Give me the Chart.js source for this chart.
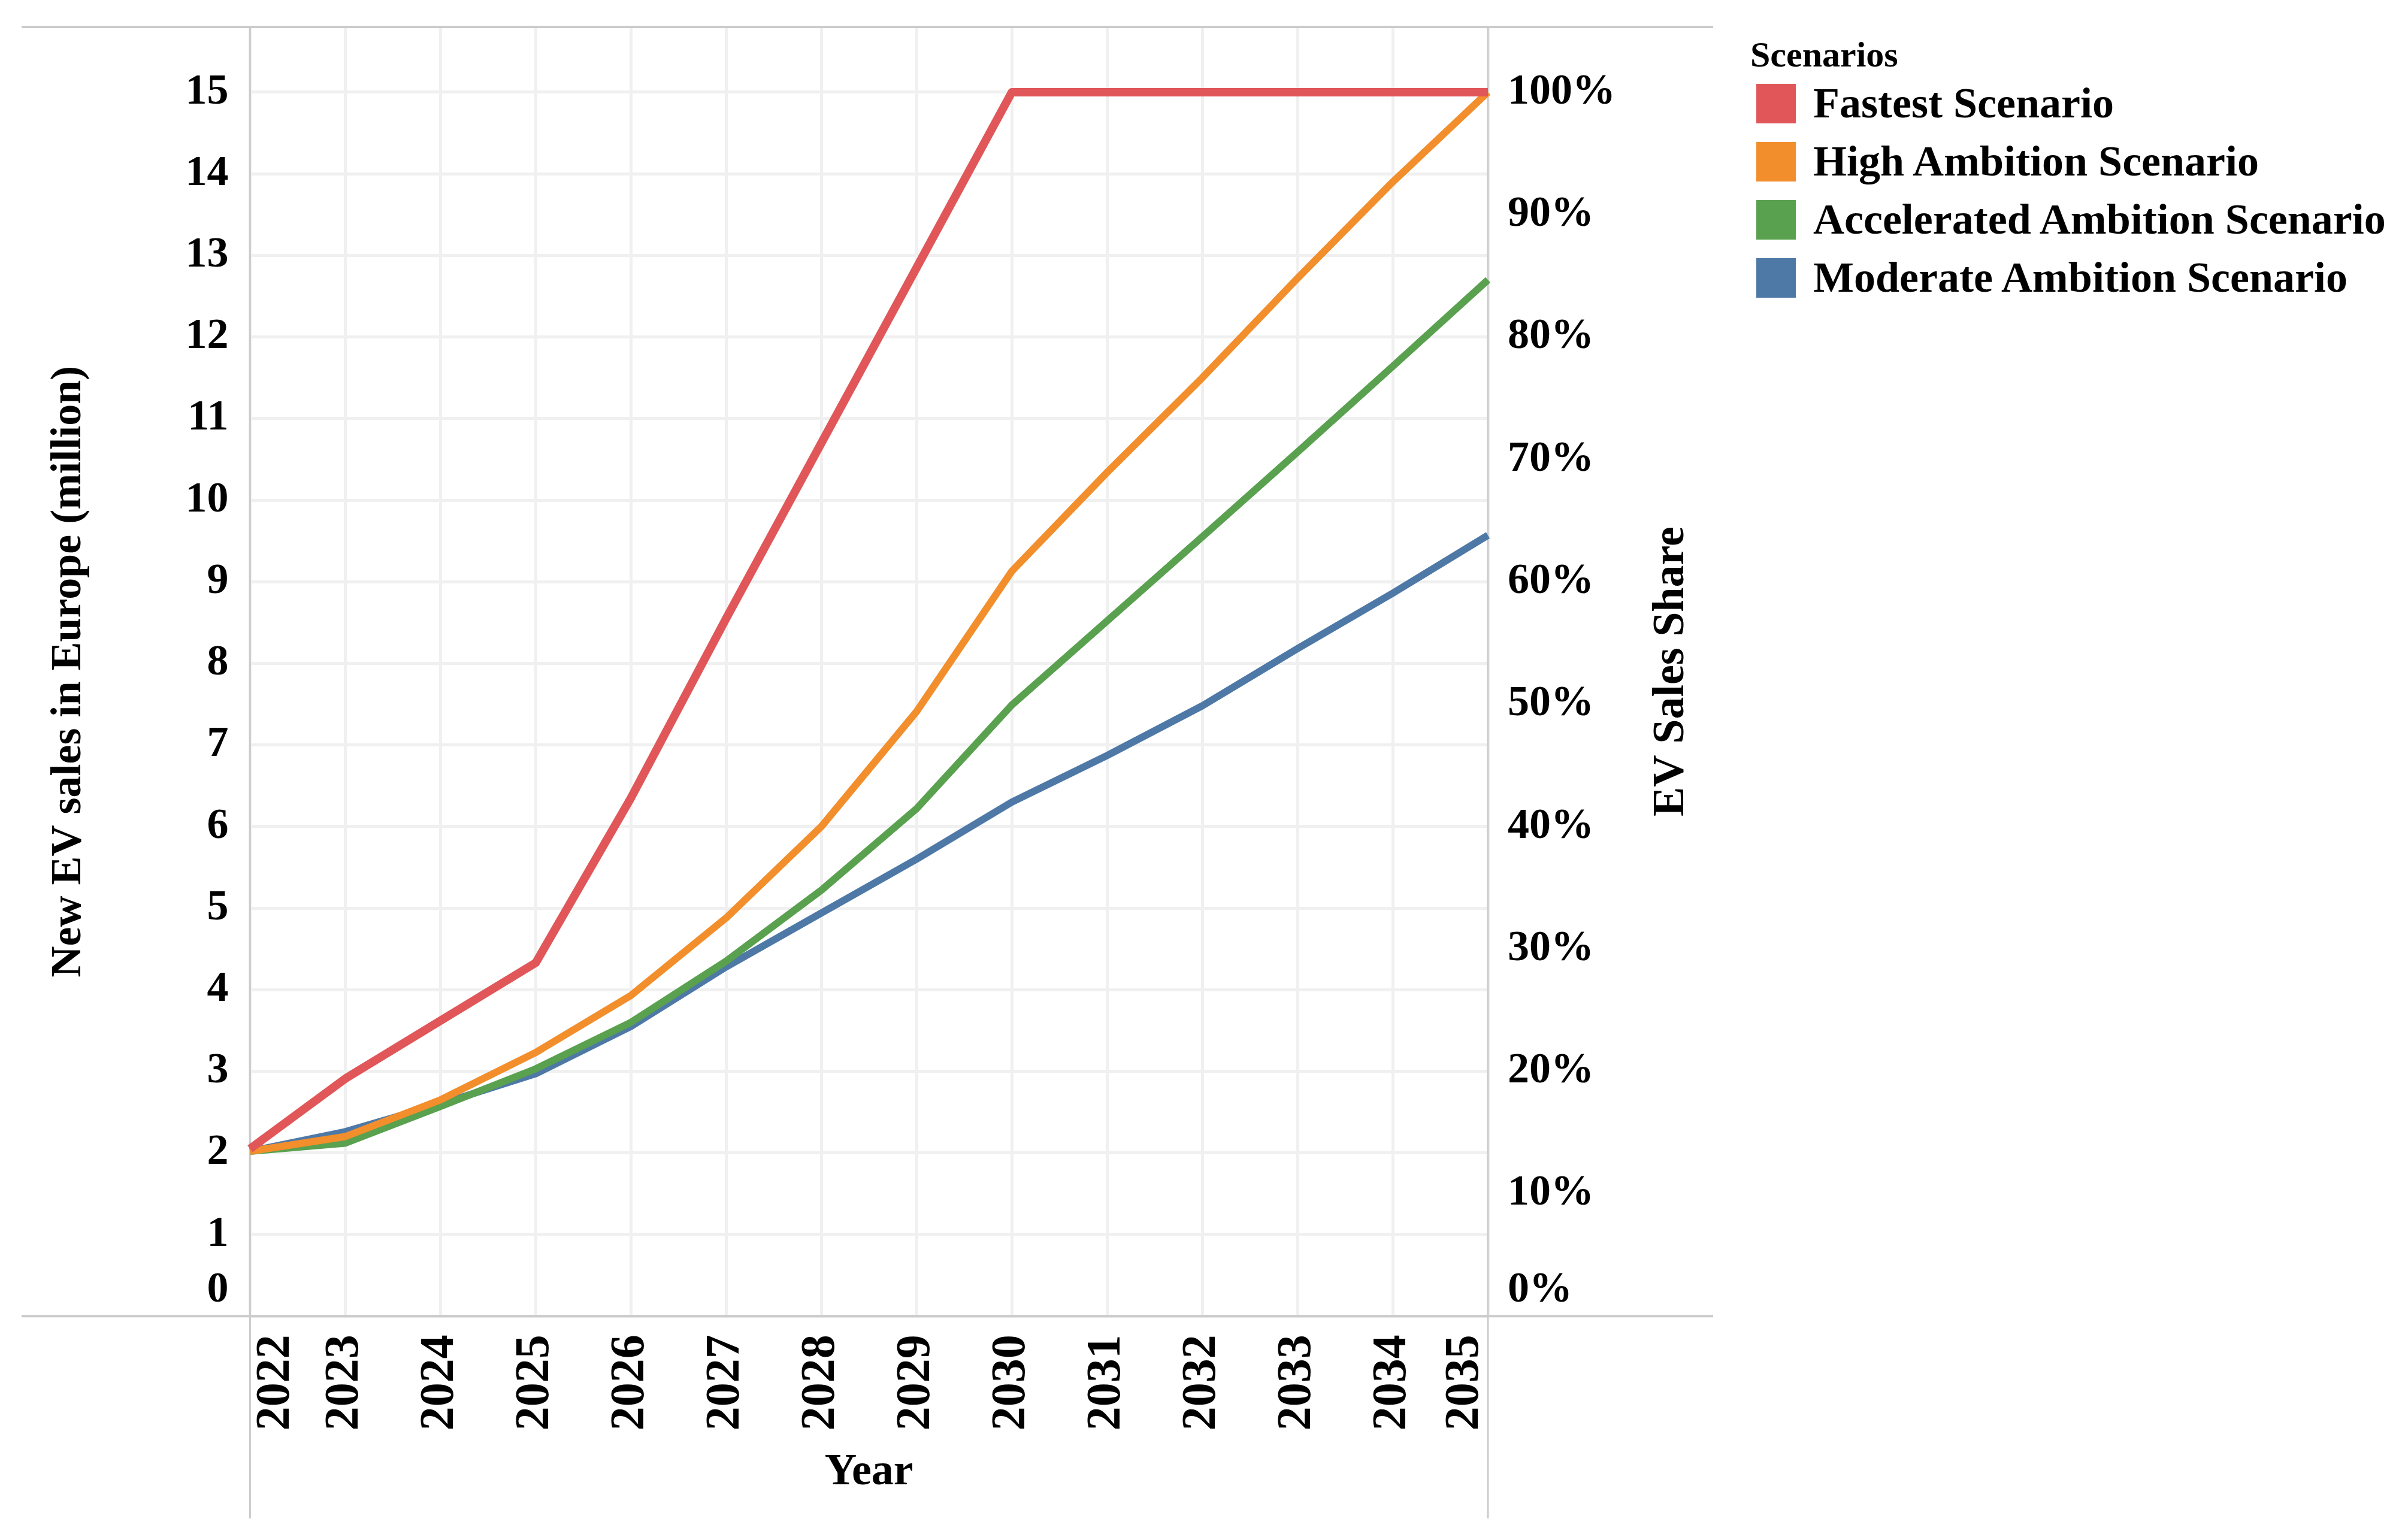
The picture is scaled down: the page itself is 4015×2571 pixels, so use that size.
<!DOCTYPE html>
<html>
<head>
<meta charset="utf-8">
<title>New EV sales in Europe</title>
<script src="https://cdn.jsdelivr.net/npm/chart.js@4.4.1/dist/chart.umd.min.js"></script>
<style>
  html, body { margin: 0; padding: 0; background: #fff; }
  #page { position: relative; width: 4015px; height: 2571px; }
  #wrap { position: absolute; left: 0; top: 0; width: 2880px; height: 2571px; }
  #legend {
    position: absolute; left: 2922px; top: 58px;
    font-family: 'Liberation Serif', 'Times New Roman', serif;
    font-weight: bold; color: #000;
  }
  #legend .lg-title { font-size: 60px; line-height: 66px; }
  #legend .lg-item { display: flex; align-items: center; height: 97px; margin-left: 10px;
                     font-size: 72px; white-space: nowrap; }
  #legend .lg-box { width: 66px; height: 66px; margin-right: 29px; flex: none; }
</style>
</head>
<body>
<div id="page">
  <div id="wrap"><canvas id="evChart"></canvas></div>
  <div id="legend"></div>
</div>
<script>
/* ── data ─────────────────────────────────────── */
var years = ['2022','2023','2024','2025','2026','2027','2028','2029','2030','2031','2032','2033','2034','2035'];

var fastest     = [2.05, 2.91, 3.62, 4.33, 6.35, 8.55, 10.7, 12.85, 15.0, 15.0, 15.0, 15.0, 15.0, 15.0];
var highAmb     = [2.02, 2.20, 2.65, 3.23, 3.93, 4.88, 6.00, 7.41, 9.13, 10.34, 11.5, 12.72, 13.9, 15.0];
var accelerated = [2.02, 2.12, 2.57, 3.03, 3.60, 4.35, 5.22, 6.22, 7.49, 8.52, 9.55, 10.59, 11.64, 12.7];
var moderate    = [2.02, 2.26, 2.60, 2.97, 3.55, 4.28, 4.94, 5.60, 6.30, 6.87, 7.48, 8.18, 8.86, 9.57];

var salesTicks = [0, 1, 2, 3, 4, 5, 6, 7, 8, 9, 10, 11, 12, 13, 14, 15];
var shareTicks = [0, 10, 20, 30, 40, 50, 60, 70, 80, 90, 100];

// 15 million new EVs = 100 % sales share
var salesMax = 15.8;
var shareMax = salesMax / 15 * 100;

(function () {
  'use strict';

  var FONT = "'Liberation Serif', 'Times New Roman', serif";
  var FRAME = '#cbcbcb';
  var GRID = '#f0f0f0';
  var NONE = 'rgba(0,0,0,0)';

  /* ── Tableau-style frame lines ───────────────── */
  var framePlugin = {
    id: 'frame',
    beforeDatasetsDraw: function (chart) {
      var ctx = chart.ctx, a = chart.chartArea;
      var x1 = 36, x2 = chart.width - 20, yEnd = chart.height - 36;
      ctx.save();
      ctx.strokeStyle = FRAME;
      ctx.lineWidth = 4;
      ctx.beginPath();
      ctx.moveTo(x1, a.top); ctx.lineTo(x2, a.top);
      ctx.moveTo(x1, a.bottom); ctx.lineTo(x2, a.bottom);
      ctx.stroke();
      ctx.lineWidth = 3;
      ctx.beginPath();
      ctx.moveTo(a.left, a.top); ctx.lineTo(a.left, yEnd);
      ctx.moveTo(a.right, a.top); ctx.lineTo(a.right, yEnd);
      ctx.stroke();
      ctx.restore();
    }
  };

  /* ── right axis title, reading bottom to top ─── */
  var shareTitlePlugin = {
    id: 'shareTitle',
    afterDraw: function (chart) {
      var s = chart.scales.share, ctx = chart.ctx;
      ctx.save();
      ctx.translate(s.left + 307, (s.top + s.bottom) / 2);
      ctx.rotate(-Math.PI / 2);
      ctx.font = 'bold 74px ' + FONT;
      ctx.fillStyle = '#000';
      ctx.textAlign = 'center';
      ctx.textBaseline = 'middle';
      ctx.fillText('EV Sales Share', 0, 0);
      ctx.restore();
    }
  };

  /* ── legend outside the canvas (Tableau-like) ── */
  var htmlLegendPlugin = {
    id: 'htmlLegend',
    afterUpdate: function (chart) {
      var el = document.getElementById('legend');
      el.innerHTML = '';
      var title = document.createElement('div');
      title.className = 'lg-title';
      title.textContent = 'Scenarios';
      el.appendChild(title);
      chart.data.datasets.forEach(function (ds) {
        var item = document.createElement('div');
        item.className = 'lg-item';
        var box = document.createElement('span');
        box.className = 'lg-box';
        box.style.background = ds.borderColor;
        var txt = document.createElement('span');
        txt.textContent = ds.label;
        item.appendChild(box);
        item.appendChild(txt);
        el.appendChild(item);
      });
    }
  };

  function line(label, data, color, width) {
    return {
      label: label,
      data: data,
      borderColor: color,
      backgroundColor: color,
      borderWidth: width,
      pointRadius: 0,
      tension: 0,
      borderJoinStyle: 'round',
      yAxisID: 'sales'
    };
  }

  // the zero label sits just above the bottom frame line
  function liftZero(text) { return text === '0' || text === '0%' ? [text, ''] : text; }

  // Year labels: every label is moved left by YEAR_SHIFT (labelOffset) and,
  // except the last one, pushed back right by an empty leading line whose
  // height is YEAR_SHIFT. The first gets a taller leading line so it sits
  // inside the pane, the last one stays shifted left.
  var YEAR_SHIFT = 38;
  function yearLabel(v, i) {
    return i === years.length - 1 ? years[i] : ['', years[i]];
  }
  function yearFont(ctx) {
    var lh = ctx.index === 0 ? YEAR_SHIFT + 44 : YEAR_SHIFT;
    if (ctx.index === years.length - 1) lh = 96;
    return { family: FONT, size: 80, weight: 'bold', lineHeight: lh + 'px' };
  }

  new Chart(document.getElementById('evChart'), {
    type: 'line',
    data: {
      labels: years,
      datasets: [
        line('Fastest Scenario', fastest, '#e15759', 14),
        line('High Ambition Scenario', highAmb, '#f28e2b', 12),
        line('Accelerated Ambition Scenario', accelerated, '#59a14f', 12),
        line('Moderate Ambition Scenario', moderate, '#4e79a7', 12)
      ]
    },
    plugins: [framePlugin, shareTitlePlugin, htmlLegendPlugin],
    options: {
      responsive: true,
      maintainAspectRatio: false,
      animation: false,
      layout: { padding: { left: 72, top: 45, bottom: 68, right: 0 } },
      plugins: {
        tooltip: { enabled: false },
        legend: { display: false }
      },
      scales: {
        x: {
          offset: false,
          grid: { color: GRID, lineWidth: 5, tickLength: 31, tickColor: NONE },
          border: { display: false },
          ticks: {
            color: '#000', padding: 0, minRotation: 90, maxRotation: 90, autoSkip: false,
            labelOffset: -YEAR_SHIFT,
            callback: yearLabel,
            font: yearFont
          },
          title: {
            display: true, text: 'Year', color: '#000',
            font: { family: FONT, size: 74, weight: 'bold' },
            padding: { top: 26, bottom: 0 }
          }
        },
        sales: {
          position: 'left',
          min: 0,
          max: salesMax,
          afterBuildTicks: function (scale) {
            scale.ticks = salesTicks.map(function (v) { return { value: v }; });
          },
          grid: { color: GRID, lineWidth: 5, tickLength: 36, tickColor: NONE },
          border: { display: false },
          ticks: {
            color: '#000', padding: 0, autoSkip: false,
            font: { family: FONT, size: 72, weight: 'bold' },
            callback: function (v) { return liftZero(String(v)); }
          },
          title: {
            display: true, text: 'New EV sales in Europe (million)', color: '#000',
            font: { family: FONT, size: 72, weight: 'bold' },
            padding: { top: 0, bottom: 151 }
          }
        },
        share: {
          position: 'right',
          min: 0,
          max: shareMax,
          afterBuildTicks: function (scale) {
            scale.ticks = shareTicks.map(function (v) { return { value: v }; });
          },
          afterFit: function (scale) { scale.width += 183; },
          grid: { drawOnChartArea: false, tickLength: 33, tickColor: NONE },
          border: { display: false },
          ticks: {
            color: '#000', padding: 0, autoSkip: false,
            font: { family: FONT, size: 72, weight: 'bold' },
            callback: function (v) { return liftZero(v + '%'); }
          }
        }
      }
    }
  });
}());
</script>
</body>
</html>
